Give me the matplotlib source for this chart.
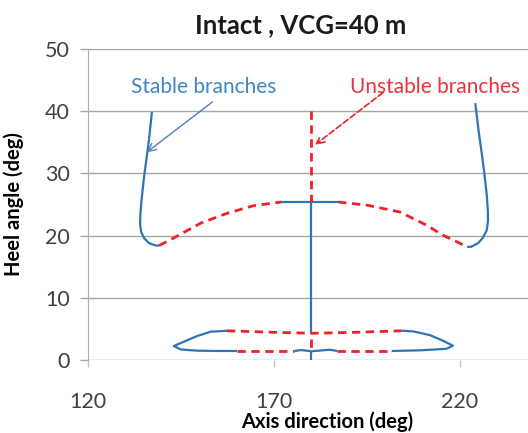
import matplotlib.pyplot as plt

plt.rcParams['font.family'] = ['Lato', 'DejaVu Sans']

BLUE = '#2e75b6'
RED = '#ee2226'

# stable branch on the left (axis direction, heel angle)
left_x = [137.2, 136.4, 135.7, 135.1, 134.5, 134.1, 134.0, 134.3, 135.1, 136.4, 138.2, 139.1]
left_y = [39.9, 35.4, 32.2, 29.5, 26.3, 23.6, 21.9, 20.6, 19.6, 18.8, 18.4, 18.4]

# stable branch on the right
right_x = [224.2, 225.1, 226.0, 226.7, 227.3, 227.6, 227.6, 227.3, 226.3, 225.0, 223.1, 222.0]
right_y = [41.3, 36.8, 33.0, 29.7, 26.5, 23.8, 22.3, 20.9, 19.7, 18.8, 18.2, 18.2]

# unstable arc joining the two upper branches
arc_l_x = [139.1, 143.0, 150.3, 157.5, 164.5, 172.0]
arc_l_y = [18.4, 19.6, 22.0, 23.6, 24.8, 25.4]
arc_r_x = [187.3, 195.0, 203.9, 211.0, 215.4, 222.0]
arc_r_y = [25.4, 24.9, 23.8, 21.7, 20.1, 18.2]

# short stable piece at the top of the arc
top_x = [172.0, 187.3]
top_y = [25.4, 25.4]

# vertical line at 180 deg
vert_x = 180.0
vert_unstable_top = [40.0, 25.4]
vert_stable = [25.4, 4.4]
vert_unstable_low = [3.3, 1.2]
vert_stable_low = [1.5, 0.0]

# small loop near zero heel
loop_left_x = [157.4, 153.0, 149.4, 145.8, 143.1, 144.9, 149.4, 154.8, 160.1]
loop_left_y = [4.7, 4.55, 3.86, 2.95, 2.25, 1.7, 1.5, 1.45, 1.45]
loop_right_x = [204.4, 207.5, 212.0, 215.5, 218.2, 216.4, 209.3, 201.7]
loop_right_y = [4.7, 4.6, 4.0, 3.1, 2.3, 1.8, 1.55, 1.45]
loop_upper_x = [157.4, 170.0, 180.6, 192.0, 204.4]
loop_upper_y = [4.7, 4.45, 4.3, 4.45, 4.7]
loop_low1_x = [160.1, 175.5]
loop_low1_y = [1.45, 1.45]
loop_mid_x = [175.5, 177.5, 180.0, 183.0, 185.0, 187.1]
loop_mid_y = [1.45, 1.6, 1.4, 1.55, 1.65, 1.45]
loop_low2_x = [187.1, 201.7]
loop_low2_y = [1.45, 1.45]

xticks = [120, 170, 220]
yticks = [0, 10, 20, 30, 40, 50]

fig = plt.figure(figsize=(5.28, 4.33), dpi=100)
ax = fig.add_axes([88 / 528, 1 - 360 / 433, 446 / 528, 311 / 433])

solid = dict(color=BLUE, lw=1.6, solid_capstyle='butt', solid_joinstyle='round')
dashed = dict(color=RED, lw=2.0, linestyle=(0, (3.0, 2.0)))

ax.plot(left_x, left_y, **solid)
ax.plot(right_x, right_y, **solid)
ax.plot(arc_l_x, arc_l_y, **dashed)
ax.plot(arc_r_x, arc_r_y, **dashed)
ax.plot(top_x, top_y, **solid)
ax.plot([vert_x, vert_x], vert_unstable_top, **dashed)
ax.plot([vert_x, vert_x], vert_stable, **solid)
ax.plot([vert_x, vert_x], vert_unstable_low, **dashed)
ax.plot([vert_x, vert_x], vert_stable_low, **solid)
ax.plot(loop_left_x, loop_left_y, **solid)
ax.plot(loop_right_x, loop_right_y, **solid)
ax.plot(loop_upper_x, loop_upper_y, **dashed)
ax.plot(loop_low1_x, loop_low1_y, **dashed)
ax.plot(loop_mid_x, loop_mid_y, **solid)
ax.plot(loop_low2_x, loop_low2_y, **dashed)

# branch labels with arrows pointing at the curves
ax.text(151.0, 43.9, 'Stable branches', color='#3d85c6', fontsize=15,
        ha='center', va='center')
ax.annotate('', xy=(135.8, 33.4), xytext=(153.5, 41.5),
            arrowprops=dict(arrowstyle='->', color='#4f7fb8', lw=1.0,
                            shrinkA=0, shrinkB=0, mutation_scale=14))
ax.text(213.5, 43.9, 'Unstable branches', color='#e8343a', fontsize=15,
        ha='center', va='center')
ax.annotate('', xy=(181.1, 34.6), xytext=(199.4, 43.0),
            arrowprops=dict(arrowstyle='->', color=RED, lw=1.2, linestyle='--',
                            shrinkA=0, shrinkB=0, mutation_scale=14))

ax.set_xlim(120, 240)
ax.set_ylim(0, 50)
ax.set_xticks(xticks)
ax.set_yticks(yticks)
ax.grid(axis='y', color='#a6a6a6', lw=1.0)
ax.set_axisbelow(True)
for side in ['top', 'right', 'bottom']:
    ax.spines[side].set_visible(False)
ax.spines['left'].set_color('#b0b0b0')
ax.tick_params(axis='x', length=5, width=1, color='#c0c0c0', pad=18,
               labelsize=15.5, labelcolor='#404040')
ax.tick_params(axis='y', length=6, width=1, color='#a6a6a6', pad=7,
               labelsize=15.5, labelcolor='#404040')

ax.set_xlabel('Axis direction (deg)', fontsize=14.5, fontweight='bold')
ax.xaxis.set_label_coords(0.536, -0.165)
ax.set_ylabel('Heel angle (deg)', fontsize=14.5, fontweight='bold')
ax.yaxis.set_label_coords(-0.143, 0.5)

fig.text(301 / 528, 1 - 25 / 433, 'Intact , VCG=40 m', fontsize=18.5,
         fontweight='bold', ha='center', va='center', color='#1a1a1a')

fig.savefig('out.png', dpi=100)
